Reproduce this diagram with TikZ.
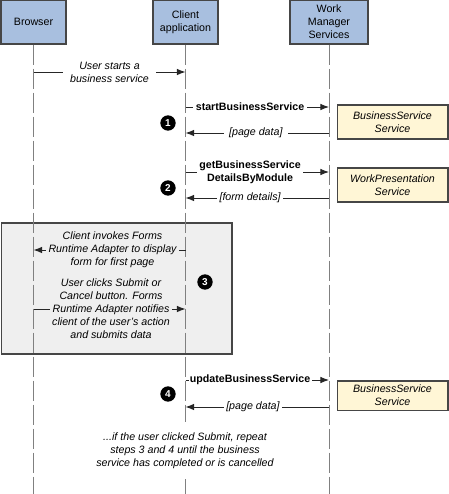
\documentclass[tikz,border=0pt]{standalone}
\usepackage{fontspec}
\setmainfont{Liberation Sans}
\usetikzlibrary{arrows.meta}

\definecolor{headblue}{RGB}{168,191,223}
\definecolor{svcyellow}{RGB}{255,246,214}
\definecolor{loopgray}{RGB}{239,239,239}
\definecolor{edgegray}{RGB}{70,70,70}

\tikzset{
  txt/.style={font=\fontsize{8}{9.75}\selectfont, align=center},
  head/.style={txt, draw=edgegray, fill=headblue, line width=0.9pt, minimum height=33pt, inner sep=0pt},
  lifeline/.style={draw=gray, line width=0.6pt, dash pattern=on 15pt off 3pt},
  msg/.style={draw=black!85, line width=0.75pt, -{Latex[length=6.5pt,width=5pt]}},
  note/.style={align=center, font=\fontsize{8}{9.75}\selectfont\itshape, fill=white, inner xsep=4pt, inner ysep=0pt},
  call/.style={align=center, font=\fontsize{8}{9.75}\selectfont\bfseries, fill=white, inner xsep=2pt, inner ysep=0pt},
  svc/.style={note, draw=edgegray, fill=svcyellow, line width=1pt, minimum width=83pt, minimum height=25.5pt},
  badge/.style={circle, fill=black, text=white, font=\fontsize{7.5}{8}\selectfont\bfseries, minimum size=11.5pt, inner sep=0pt},
}

\begin{document}
\begin{tikzpicture}[x=0.75pt, y=-0.75pt]
    %\draw[lightgray] (0, 0) grid[step=20] (449, 494);
    \useasboundingbox (0, 0) rectangle (449, 494);
    \coordinate (bottom) at (0, 494);

    % step 3 box
    \draw[draw=edgegray, fill=loopgray, line width=1.2pt] (1.5, 223) rectangle (232, 354);

    \node[head, minimum width=48.75pt] (browser) at (33.5, 22) {Browser};
    \node[head, minimum width=48.75pt] (client) at (185.5, 22) {Client\\application};
    \node[head, minimum width=58.5pt] (wms) at (329, 22) {Work\\Manager\\Services};

    \draw[lifeline] (browser) -- (browser |- bottom);
    \draw[lifeline] (client) -- (client |- bottom);
    \draw[lifeline] (wms) -- (wms |- bottom);

    \draw[msg] (browser |- 0, 72) -- node[note, inner xsep=5pt] (start) {User starts a\\business service} (client |- 0, 72);

    % step 1
    \draw[msg] (client |- 0, 107) -- node[call, pos=0.45] (sbs) {startBusinessService} (wms |- 0, 107);
    \draw[msg] (wms |- 0, 133) -- node[note, pos=0.51] (pd1) {[page data]} (client |- 0, 133);
    \node[badge] (s1) at (168, 123) {1};
    \node[svc] (svc1) at (392.5, 122) {BusinessService\\Service};

    % step 2
    \draw[msg] (client |- 0, 172) -- node[call, pos=0.45] (gbs) {getBusinessService\\DetailsByModule} (wms |- 0, 172);
    \draw[msg] (wms |- 0, 198) -- node[note, pos=0.55, inner xsep=2pt] (fd) {[form details]} (client |- 0, 198);
    \node[badge] (s2) at (168, 188) {2};
    \node[svc] (svc2) at (392.5, 185) {WorkPresentation\\Service};

    % step 3
    \draw[msg] (client |- 0, 250) -- node[note, fill=loopgray, pos=0.48, inner xsep=2pt] (invoke) {Client invokes Forms\\Runtime Adapter to display\\form for first page} (browser |- 0, 250);
    \draw[msg] (browser |- 0, 309) -- node[note, fill=loopgray, pos=0.51, inner xsep=2pt] (clicks) {User clicks Submit or\\Cancel button. Forms\\Runtime Adapter notifies\\client of the user’s action\\and submits data} (client |- 0, 309);
    \node[badge] (s3) at (205, 282) {3};

    % step 4
    \draw[msg] (client |- 0, 380) -- node[call, pos=0.45, inner xsep=1pt] (ubs) {updateBusinessService} (wms |- 0, 380);
    \draw[msg] (wms |- 0, 407) -- node[note, pos=0.53, inner xsep=2pt] (pd2) {[page data]} (client |- 0, 407);
    \node[badge] (s4) at (168, 394) {4};
    \node[svc, minimum height=22pt] (svc3) at (392.5, 395.5) {BusinessService\\Service};

    \node[note, inner ysep=8pt] (again) at (185, 450.5) {...if the user clicked Submit, repeat\\steps 3 and 4 until the business\\service has completed or is cancelled};
\end{tikzpicture}
\end{document}
